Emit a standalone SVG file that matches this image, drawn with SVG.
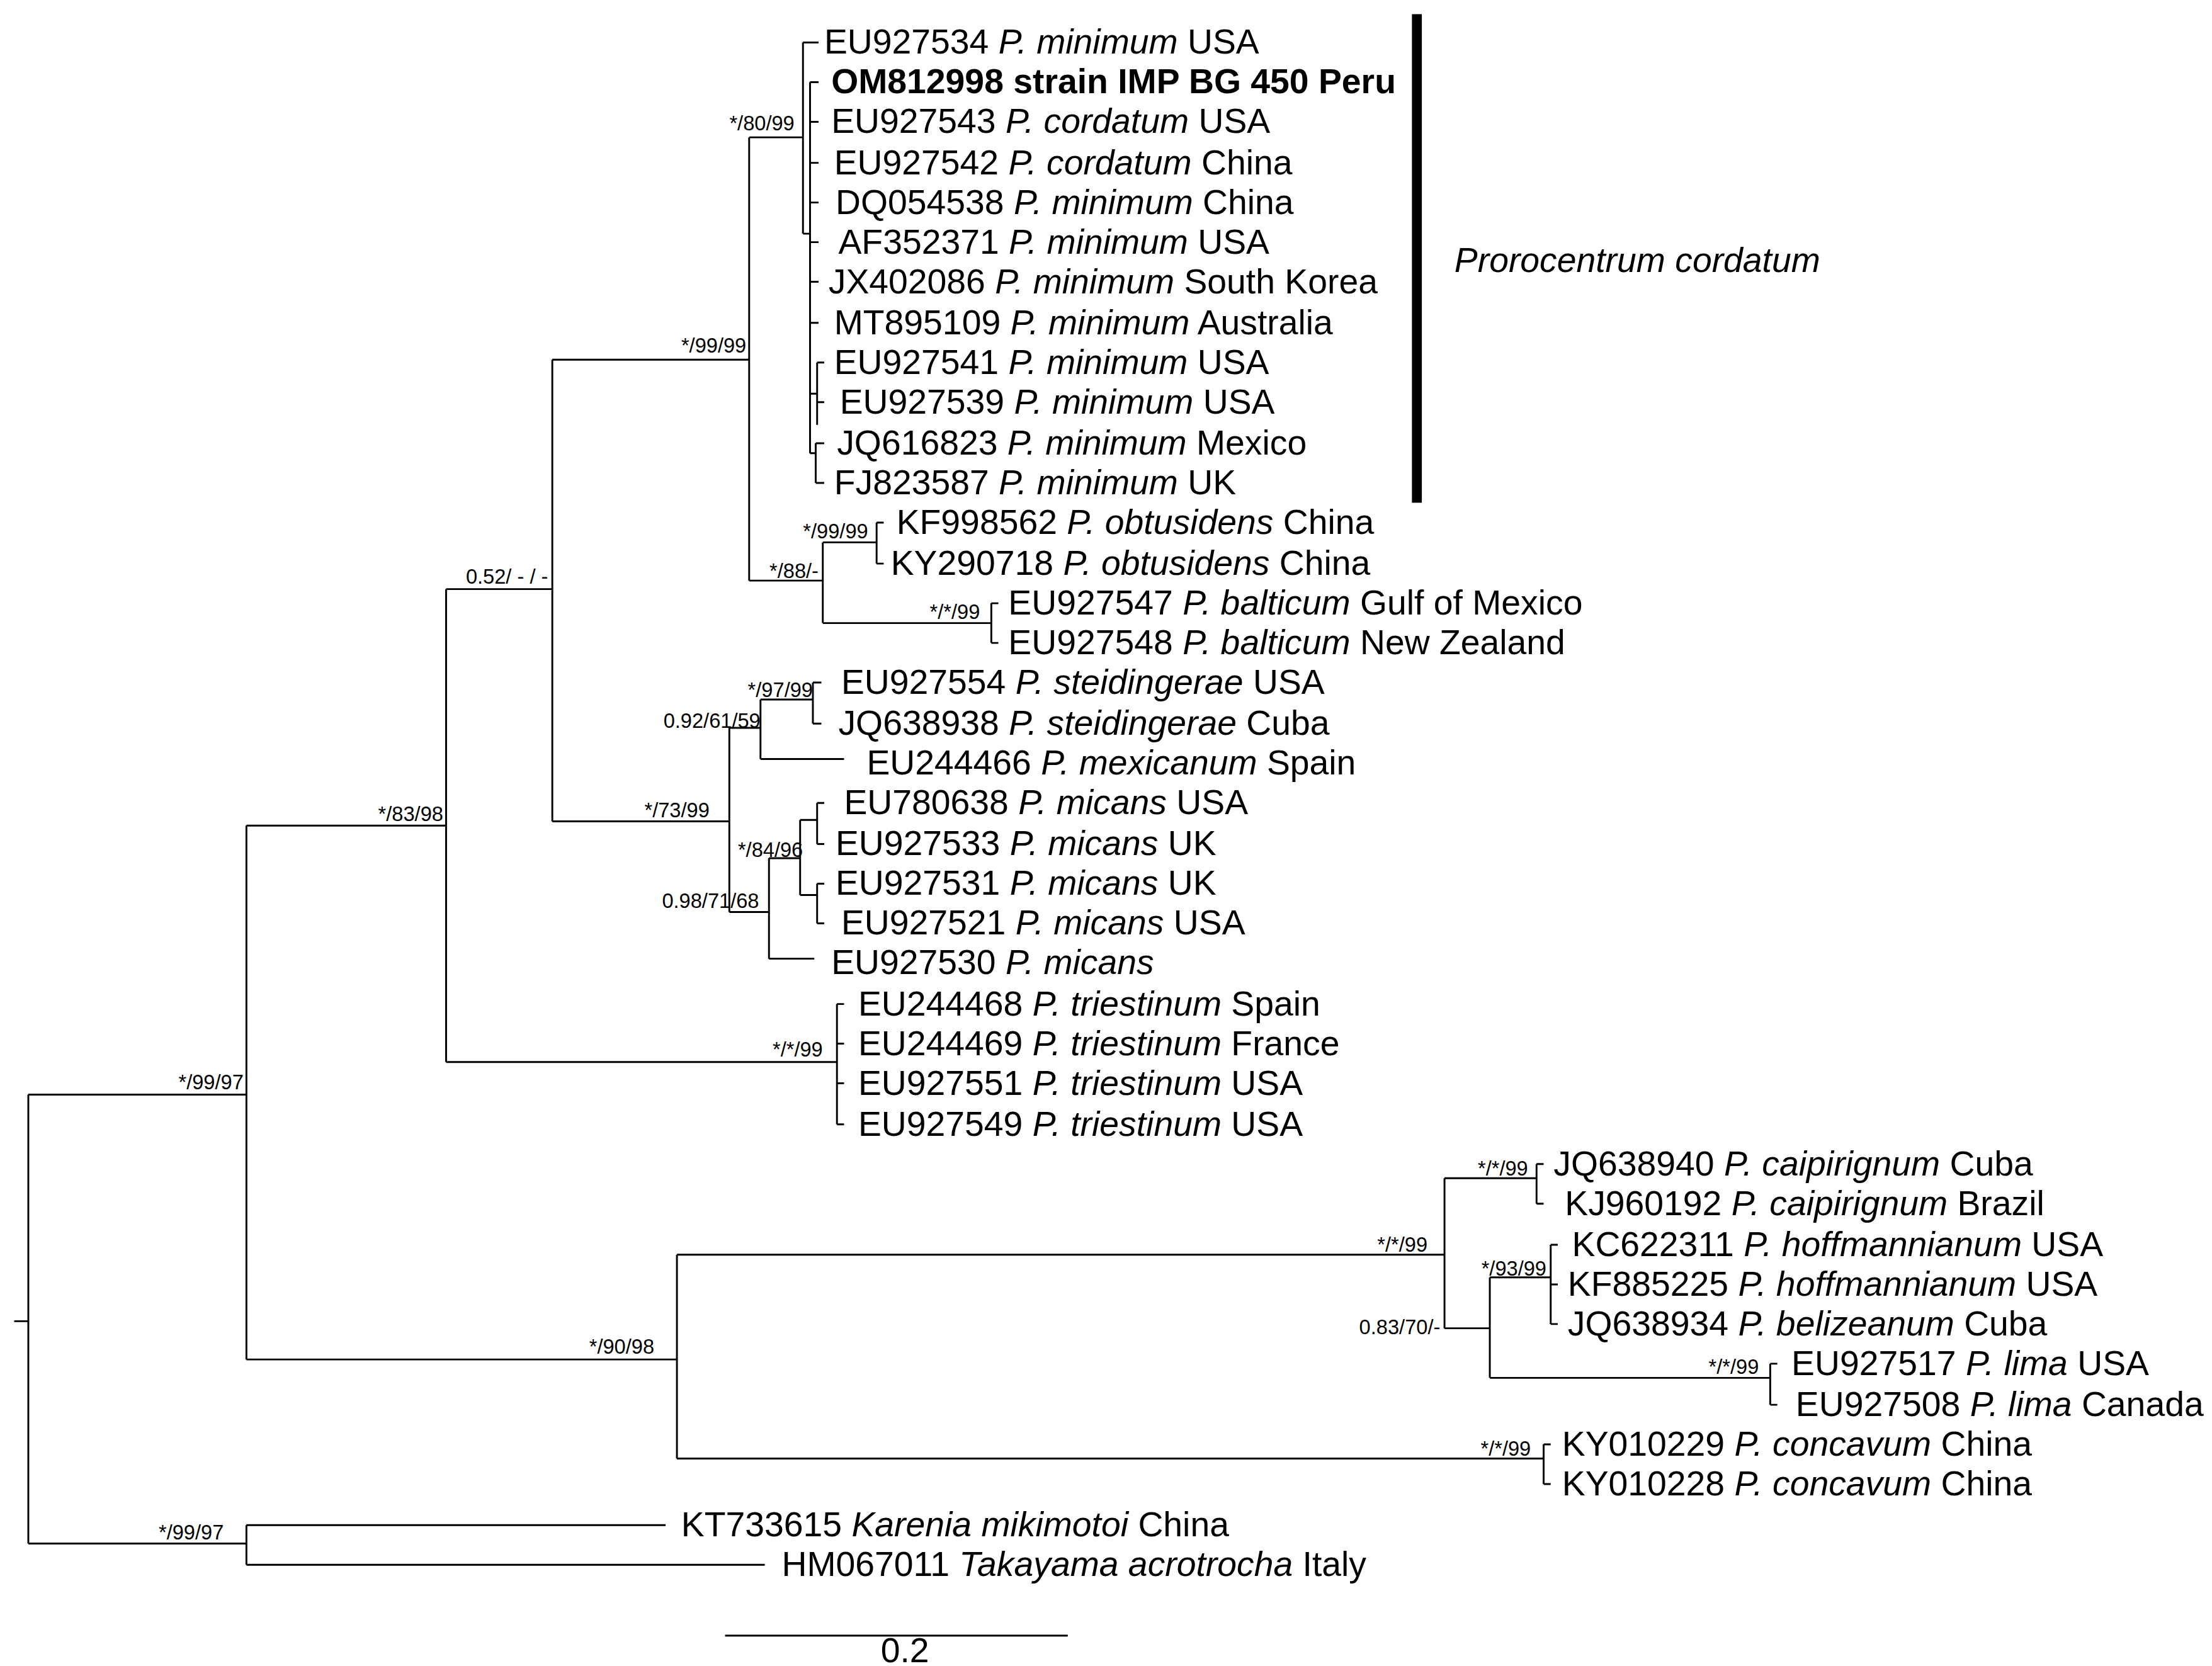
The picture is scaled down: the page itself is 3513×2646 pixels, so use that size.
<svg xmlns="http://www.w3.org/2000/svg" width="3513" height="2646" viewBox="0 0 3513 2646">
<style>
.l{font-family:"Liberation Sans",Arial,sans-serif;font-size:24.6px;fill:#000}
.s{font-family:"Liberation Sans",Arial,sans-serif;font-size:14.5px;fill:#000;text-anchor:end}
.e path{fill:none;stroke:#000;stroke-width:1.3}
</style>
<rect width="3513" height="2646" fill="#fff"/>
<g transform="scale(2.2491)">
<g id="connectors" class="e">
<path d="M10 933H20M20 773V1090M20 773H174M174 583V960M174 583H315M315 416V750M315 416H390M390 254V580M390 254H529M529 97V410M529 97H567M567 30V165M567 30H578M567 165H572M572 58V320M572 58H578M572 86H578M572 115H578M572 143H578M572 171H578M572 199H578M572 228H578M572 278H577M577 256V300M577 256H582M577 284H582M572 320H576M576 313V341M576 313H582M576 341H582"/>
<path d="M529 410H581M581 383V440M581 383H619M619 369V398M619 369H624M619 398H624M581 440H700M700 426V454M700 426H705M700 454H705"/>
<path d="M390 580H515M515 514V644M515 514H537M537 494V536M537 494H574M574 482V511M574 482H580M574 511H580M537 536H596M515 644H543M543 606V677M543 606H565M565 579V632M565 579H577M577 567V596M577 567H582M577 596H582M565 632H577M577 624V652M577 624H582M577 652H582M543 677H575"/>
<path d="M315 750H591M591 709V794M591 709H596M591 737H596M591 765H596M591 794H596"/>
<path d="M174 960H478M478 886V1030M478 886H1020M1020 832V938M1020 832H1085M1085 822V850M1085 822H1090M1085 850H1090M1020 938H1052M1052 902V973M1052 902H1095M1095 879V935M1095 879H1100M1095 907H1100M1095 935H1100M1052 973H1250M1250 963V992M1250 963H1255M1250 992H1255M478 1030H1090M1090 1020V1048M1090 1020H1095M1090 1048H1095"/>
<path d="M20 1090H174M174 1077V1105M174 1077H470M174 1105H540"/>
<path d="M512 1155H754"/>
</g>
<g id="cordatum">
<text class="l" x="582" y="38">EU927534 <tspan font-style="italic">P. minimum</tspan> USA</text>
<text class="l" x="587" y="66" font-weight="bold" font-size="23">OM812998 strain IMP BG 450 Peru</text>
<text class="l" x="587" y="94">EU927543 <tspan font-style="italic">P. cordatum</tspan> USA</text>
<text class="l" x="589" y="123">EU927542 <tspan font-style="italic">P. cordatum</tspan> China</text>
<text class="l" x="590" y="151">DQ054538 <tspan font-style="italic">P. minimum</tspan> China</text>
<text class="l" x="592" y="179">AF352371 <tspan font-style="italic">P. minimum</tspan> USA</text>
<text class="l" x="585" y="207">JX402086 <tspan font-style="italic">P. minimum</tspan> South Korea</text>
<text class="l" x="589" y="236">MT895109 <tspan font-style="italic">P. minimum</tspan> Australia</text>
<text class="l" x="589" y="264">EU927541 <tspan font-style="italic">P. minimum</tspan> USA</text>
<text class="l" x="593" y="292">EU927539 <tspan font-style="italic">P. minimum</tspan> USA</text>
<text class="l" x="591" y="321">JQ616823 <tspan font-style="italic">P. minimum</tspan> Mexico</text>
<text class="l" x="589" y="349">FJ823587 <tspan font-style="italic">P. minimum</tspan> UK</text>
<rect x="997" y="10" width="7" height="345" fill="#000"/>
<text class="l" x="1027" y="192" font-size="30" font-style="italic">Prorocentrum cordatum</text>
</g>
<g id="others">
<text class="l" x="633" y="377">KF998562 <tspan font-style="italic">P. obtusidens</tspan> China</text>
<text class="l" x="629" y="406">KY290718 <tspan font-style="italic">P. obtusidens</tspan> China</text>
<text class="l" x="712" y="434">EU927547 <tspan font-style="italic">P. balticum</tspan> Gulf of Mexico</text>
<text class="l" x="712" y="462">EU927548 <tspan font-style="italic">P. balticum</tspan> New Zealand</text>
<text class="l" x="594" y="490">EU927554 <tspan font-style="italic">P. steidingerae</tspan> USA</text>
<text class="l" x="592" y="519">JQ638938 <tspan font-style="italic">P. steidingerae</tspan> Cuba</text>
<text class="l" x="612" y="547">EU244466 <tspan font-style="italic">P. mexicanum</tspan> Spain</text>
<text class="l" x="596" y="575">EU780638 <tspan font-style="italic">P. micans</tspan> USA</text>
<text class="l" x="590" y="604">EU927533 <tspan font-style="italic">P. micans</tspan> UK</text>
<text class="l" x="590" y="632">EU927531 <tspan font-style="italic">P. micans</tspan> UK</text>
<text class="l" x="594" y="660">EU927521 <tspan font-style="italic">P. micans</tspan> USA</text>
<text class="l" x="587" y="688">EU927530 <tspan font-style="italic">P. micans</tspan></text>
<text class="l" x="606" y="717">EU244468 <tspan font-style="italic">P. triestinum</tspan> Spain</text>
<text class="l" x="606" y="745">EU244469 <tspan font-style="italic">P. triestinum</tspan> France</text>
<text class="l" x="606" y="773">EU927551 <tspan font-style="italic">P. triestinum</tspan> USA</text>
<text class="l" x="606" y="802">EU927549 <tspan font-style="italic">P. triestinum</tspan> USA</text>
<text class="l" x="1097" y="830">JQ638940 <tspan font-style="italic">P. caipirignum</tspan> Cuba</text>
<text class="l" x="1105" y="858">KJ960192 <tspan font-style="italic">P. caipirignum</tspan> Brazil</text>
<text class="l" x="1110" y="887">KC622311 <tspan font-style="italic">P. hoffmannianum</tspan> USA</text>
<text class="l" x="1107" y="915">KF885225 <tspan font-style="italic">P. hoffmannianum</tspan> USA</text>
<text class="l" x="1107" y="943">JQ638934 <tspan font-style="italic">P. belizeanum</tspan> Cuba</text>
<text class="l" x="1265" y="971">EU927517 <tspan font-style="italic">P. lima</tspan> USA</text>
<text class="l" x="1268" y="1000">EU927508 <tspan font-style="italic">P. lima</tspan> Canada</text>
<text class="l" x="1103" y="1028">KY010229 <tspan font-style="italic">P. concavum</tspan> China</text>
<text class="l" x="1103" y="1056">KY010228 <tspan font-style="italic">P. concavum</tspan> China</text>
<text class="l" x="481" y="1085">KT733615 <tspan font-style="italic">Karenia mikimotoi</tspan> China</text>
<text class="l" x="552" y="1113">HM067011 <tspan font-style="italic">Takayama acrotrocha</tspan> Italy</text>
</g>
<g id="supports">
<text class="s" x="561" y="92">*/80/99</text>
<text class="s" x="527" y="249">*/99/99</text>
<text class="s" x="387" y="412">0.52/ - / -</text>
<text class="s" x="313" y="580">*/83/98</text>
<text class="s" x="172" y="769">*/99/97</text>
<text class="s" x="613" y="380">*/99/99</text>
<text class="s" x="578" y="408">*/88/-</text>
<text class="s" x="692" y="437">*/*/99</text>
<text class="s" x="574" y="492">*/97/99</text>
<text class="s" x="537" y="514">0.92/61/59</text>
<text class="s" x="501" y="577">*/73/99</text>
<text class="s" x="567" y="605">*/84/96</text>
<text class="s" x="536" y="641">0.98/71/68</text>
<text class="s" x="581" y="746">*/*/99</text>
<text class="s" x="1079" y="830">*/*/99</text>
<text class="s" x="1008" y="884">*/*/99</text>
<text class="s" x="1092" y="901">*/93/99</text>
<text class="s" x="1017" y="942">0.83/70/-</text>
<text class="s" x="1242" y="970">*/*/99</text>
<text class="s" x="462" y="956">*/90/98</text>
<text class="s" x="1081" y="1028">*/*/99</text>
<text class="s" x="158" y="1087">*/99/97</text>
</g>
<g id="scale">
<text class="l" x="639" y="1174" font-size="18" text-anchor="middle">0.2</text>
</g>
</g>
</svg>
